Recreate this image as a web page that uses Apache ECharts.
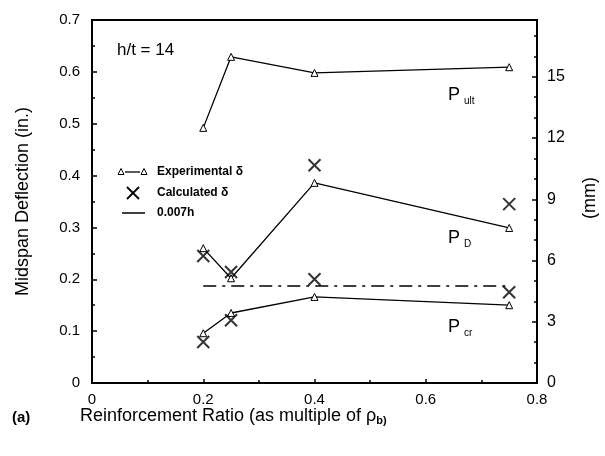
<!DOCTYPE html>
<html>
<head>
<meta charset="utf-8">
<script src="https://cdn.jsdelivr.net/npm/echarts@6/dist/echarts.min.js"></script>
<style>
html,body{margin:0;padding:0;background:#fff;}
#chart{width:605px;height:456px;}
</style>
</head>
<body>
<div id="chart"></div>
<script>
// ---- data ----
const reinforcementRatio = [0.2, 0.25, 0.4, 0.75];
const expUlt = [0.492, 0.629, 0.598, 0.609];
const expD = [0.26, 0.202, 0.386, 0.299];
const expCr = [0.096, 0.135, 0.166, 0.15];
const calcD = [0.245, 0.214, 0.42, 0.345];
const calcCr = [0.079, 0.121, 0.2, 0.175];
const limitX = [0.2, 0.75];
const limitValue = 0.187;
const xTicks = [0, 0.2, 0.4, 0.6, 0.8];
const yTicksIn = [0, 0.1, 0.2, 0.3, 0.4, 0.5, 0.6, 0.7];
const yTicksMm = [0, 3, 6, 9, 12, 15];

const FONT = 'Liberation Sans, Arial, sans-serif';
const crossPath = 'path://M0,0L10,10M10,0L0,10';

function pairs(xs, ys) { return xs.map((x, i) => [x, ys[i]]); }

const chart = echarts.init(document.getElementById('chart'), null, {renderer: 'canvas'});

const expStyle = {
  type: 'line', symbol: 'triangle', symbolSize: 7,
  lineStyle: {color: '#000', width: 1.3},
  itemStyle: {color: '#fff', borderColor: '#000', borderWidth: 1},
  z: 3, animation: false
};
const calcStyle = {
  type: 'scatter', symbol: crossPath, symbolSize: 12,
  itemStyle: {color: '#000', borderColor: '#000', borderWidth: 2},
  z: 4, animation: false
};

const option = {
  backgroundColor: '#fff',
  animation: false,
  grid: {left: 92, right: 68, top: 20, bottom: 73, show: true, borderColor: '#000', borderWidth: 2, backgroundColor: 'transparent'},
  xAxis: {
    type: 'value', min: xTicks[0], max: xTicks[xTicks.length - 1], interval: 0.2,
    axisLine: {lineStyle: {color: '#000', width: 2}},
    axisTick: {inside: true, length: 4, lineStyle: {color: '#000', width: 1.5}},
    minorTick: {show: true, splitNumber: 2, length: 3, lineStyle: {color: '#000', width: 1.5}},
    splitLine: {show: false},
    axisLabel: {color: '#000', fontSize: 15, fontFamily: FONT, margin: 9,
      formatter: v => (v === 0 ? '0' : v.toFixed(1))}
  },
  yAxis: [
    {
      type: 'value', min: yTicksIn[0], max: yTicksIn[yTicksIn.length - 1], interval: 0.1,
      axisLine: {lineStyle: {color: '#000', width: 2}},
      axisTick: {inside: true, length: 5, lineStyle: {color: '#000', width: 1.5}},
      minorTick: {show: true, splitNumber: 2, length: 3, lineStyle: {color: '#000', width: 1.5}},
      splitLine: {show: false},
      axisLabel: {color: '#000', fontSize: 15, fontFamily: FONT, margin: 12,
        formatter: v => (v === 0 ? '0' : v.toFixed(1))},
      name: 'Midspan Deflection (in.)', nameLocation: 'middle', nameGap: 60, nameRotate: 90,
      nameTextStyle: {color: '#000', fontSize: 18, fontFamily: FONT}
    },
    {
      type: 'value', position: 'right', min: yTicksMm[0], max: 0.7 * 25.4, interval: 3,
      axisLine: {show: true, lineStyle: {color: '#000', width: 2}},
      axisTick: {inside: true, length: 5, lineStyle: {color: '#000', width: 1.5}},
      minorTick: {show: true, splitNumber: 3, length: 3, lineStyle: {color: '#000', width: 1.5}},
      splitLine: {show: false},
      axisLabel: {color: '#000', fontSize: 16, fontFamily: FONT, margin: 10, showMaxLabel: false,
        formatter: v => (yTicksMm.indexOf(v) >= 0 ? String(v) : '')}
    }
  ],
  series: [
    Object.assign({name: 'Experimental Pult', data: pairs(reinforcementRatio, expUlt)}, expStyle),
    Object.assign({name: 'Experimental PD', data: pairs(reinforcementRatio, expD)}, expStyle),
    Object.assign({name: 'Experimental Pcr', data: pairs(reinforcementRatio, expCr)}, expStyle),
    Object.assign({name: 'Calculated PD', data: pairs(reinforcementRatio, calcD)}, calcStyle),
    Object.assign({name: 'Calculated Pcr', data: pairs(reinforcementRatio, calcCr)}, calcStyle),
    {
      name: '0.007h', type: 'line', symbol: 'none',
      data: limitX.map(x => [x, limitValue]),
      lineStyle: {color: '#000', width: 1.6, type: [13, 6, 3, 6]}, z: 2
    }
  ],
  graphic: [
    {type: 'text', x: 117, y: 50, style: {text: 'h/t = 14', fontSize: 17, fontFamily: FONT, fill: '#000', verticalAlign: 'middle'}},
    // legend
    {type: 'polygon', shape: {points: [[121, 168.5], [118, 174.5], [124, 174.5]]}, style: {fill: '#fff', stroke: '#000', lineWidth: 1}},
    {type: 'line', shape: {x1: 125, y1: 172, x2: 140, y2: 172}, style: {stroke: '#000', lineWidth: 1.3}},
    {type: 'polygon', shape: {points: [[144, 168.5], [141, 174.5], [147, 174.5]]}, style: {fill: '#fff', stroke: '#000', lineWidth: 1}},
    {type: 'text', x: 157, y: 172, style: {text: 'Experimental δ', fontSize: 12, fontWeight: 'bold', fontFamily: FONT, fill: '#000', verticalAlign: 'middle'}},
    {type: 'polyline', shape: {points: [[127, 187], [139, 199]]}, style: {stroke: '#000', lineWidth: 1.8}},
    {type: 'polyline', shape: {points: [[139, 187], [127, 199]]}, style: {stroke: '#000', lineWidth: 1.8}},
    {type: 'text', x: 157, y: 193, style: {text: 'Calculated δ', fontSize: 12, fontWeight: 'bold', fontFamily: FONT, fill: '#000', verticalAlign: 'middle'}},
    {type: 'line', shape: {x1: 122, y1: 213, x2: 145, y2: 213}, style: {stroke: '#000', lineWidth: 1.5}},
    {type: 'text', x: 157, y: 213, style: {text: '0.007h', fontSize: 12, fontWeight: 'bold', fontFamily: FONT, fill: '#000', verticalAlign: 'middle'}},
    // curve labels
    {type: 'text', x: 448, y: 95, style: {text: '{p|P}{s|ult}', fontFamily: FONT, fill: '#000', verticalAlign: 'middle',
      rich: {p: {fontSize: 18, fontFamily: FONT}, s: {fontSize: 10, fontFamily: FONT, padding: [12, 0, 0, 4]}}}},
    {type: 'text', x: 448, y: 238, style: {text: '{p|P}{s|D}', fontFamily: FONT, fill: '#000', verticalAlign: 'middle',
      rich: {p: {fontSize: 18, fontFamily: FONT}, s: {fontSize: 10, fontFamily: FONT, padding: [12, 0, 0, 4]}}}},
    {type: 'text', x: 448, y: 327, style: {text: '{p|P}{s|cr}', fontFamily: FONT, fill: '#000', verticalAlign: 'middle',
      rich: {p: {fontSize: 18, fontFamily: FONT}, s: {fontSize: 10, fontFamily: FONT, padding: [12, 0, 0, 4]}}}},
    // right axis title
    {type: 'text', x: 590, y: 198, rotation: Math.PI / 2, style: {text: '(mm)', fontSize: 18, fontFamily: FONT, fill: '#000', align: 'center', verticalAlign: 'middle'}},
    // x-axis title
    {type: 'text', x: 80, y: 416, style: {text: 'Reinforcement Ratio (as multiple of {r|ρ}{b|b)}', fontSize: 18, fontFamily: FONT, fill: '#000', verticalAlign: 'middle',
      rich: {r: {fontSize: 18, fontFamily: FONT}, b: {fontSize: 11, fontWeight: 'bold', fontFamily: FONT, padding: [10, 0, 0, 0]}}}},
    {type: 'text', x: 12, y: 418, style: {text: '(a)', fontSize: 15, fontWeight: 'bold', fontFamily: FONT, fill: '#000', verticalAlign: 'middle'}}
  ]
};
chart.setOption(option);
</script>
</body>
</html>
